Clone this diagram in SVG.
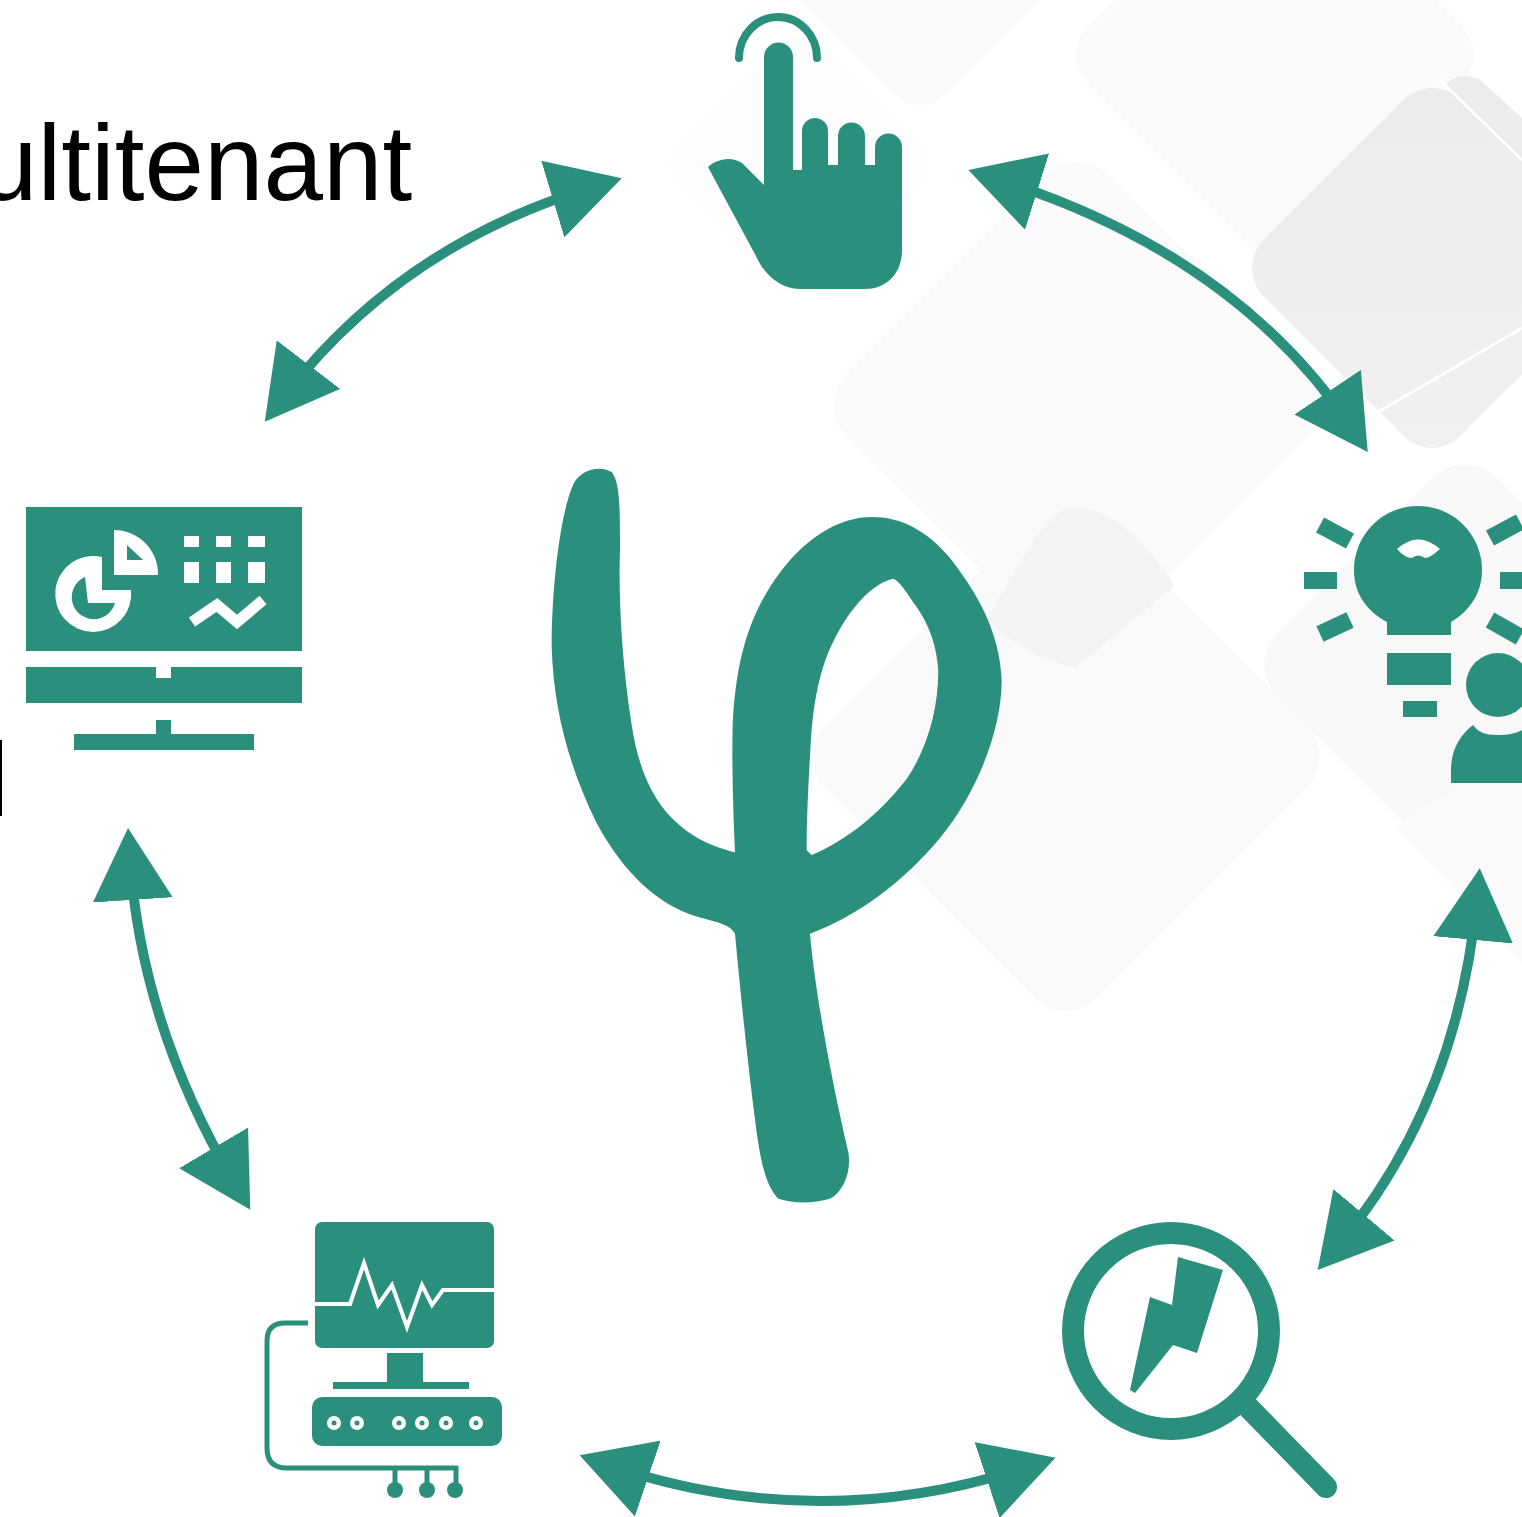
<svg xmlns="http://www.w3.org/2000/svg" width="1522" height="1517" viewBox="0 0 1522 1517">
<style>
.t{fill:#2b8f7d}
.w{fill:#fff}
.ws{fill:none;stroke:#fff}
.ts{fill:none;stroke:#2b8f7d}
.c{fill:none;stroke:#2b8f7d;stroke-width:10;marker-start:url(#h);marker-end:url(#h)}
.title{font-family:"Liberation Sans",Arial,sans-serif;font-size:107px;fill:#000}
</style>
<defs>
<marker id="h" viewBox="0 0 72 80" refX="42" refY="40" markerWidth="72" markerHeight="80" markerUnits="userSpaceOnUse" orient="auto-start-reverse">
<path d="M0,0 L72,40 L0,80 Z" fill="#2b8f7d"/>
</marker>
<linearGradient id="g" x1="0" y1="0" x2="1" y2="1"><stop offset="0" stop-color="#ebebeb"/><stop offset="1" stop-color="#f1f1f1"/></linearGradient>
</defs>
<rect width="1522" height="1517" fill="#fff"/>
<g id="background">
<rect x="800" y="-170" width="240" height="240" rx="35" transform="rotate(45 920 -50)" fill="#fafafa"/>
<rect x="700" y="65" width="200" height="200" rx="30" transform="rotate(45 800 165)" fill="#fdfdfd"/>
<rect x="1122.500" y="-97.500" width="305" height="305" rx="40" transform="rotate(45 1275 55)" fill="#fafafa"/>
<path d="M1445,85 Q1460,70 1480,80 L1522,118 V170 Z" fill="#ececec"/>
<rect x="1293" y="129" width="278" height="278" rx="40" transform="rotate(45 1432 268)" fill="url(#g)"/>
<path d="M1378,412 L1522,328 M1440,80 L1522,160" fill="none" stroke="#fff" stroke-width="3"/>
<rect x="892" y="220" width="370" height="370" rx="45" transform="rotate(45 1077 405)" fill="#fafafa"/>
<rect x="873.500" y="564.500" width="385" height="385" rx="45" transform="rotate(45 1066 757)" fill="#f9f9f9"/>
<path d="M1072,507 C1110,507 1140,535 1175,585 L1075,668 C1040,660 1005,640 988,618 C1015,570 1045,512 1072,507 Z" fill="#f3f3f3"/>
<rect x="1310" y="510" width="310" height="310" rx="45" transform="rotate(45 1465 665)" fill="#f8f8f8"/>
<path d="M1395,826 L1522,748 V962 Z" fill="#fafafa"/>
</g>
<g id="title"><text class="title" x="-22" y="200">ultitenant</text></g>
<rect id="edge-mark" x="0" y="740" width="2" height="76" fill="#000"/>
<g id="connectors">
<path class="c" d="M283,398 Q400,245 593,187"/>
<path class="c" d="M997,179 Q1235,254 1351,427"/>
<path class="c" d="M1477,898 Q1458,1103 1337,1247"/>
<path class="c" d="M130,858 Q141,1025 235,1184"/>
<path class="c" d="M608,1465 Q817,1536 1027,1467"/>
</g>
<g id="node-phi">
<path class="t" fill-rule="evenodd" transform="translate(540 450) scale(.33333 .491)" d="M100,70 C120,40 180,30 215,45 C240,65 240,120 240,200 C235,300 245,430 275,560 C295,650 340,720 420,765 C470,795 530,810 585,820 C580,740 575,650 578,560 C585,460 610,370 680,290 C750,210 850,150 960,138 C1060,130 1150,155 1230,220 C1310,290 1380,370 1385,470 C1385,570 1310,700 1200,790 C1090,880 950,950 810,985 C825,1100 870,1270 925,1430 C935,1470 910,1510 870,1525 C820,1535 760,1535 715,1525 C680,1500 665,1460 650,1390 C625,1260 605,1130 585,985 C570,965 520,960 470,950 C350,925 250,860 170,760 C90,650 40,530 35,400 C35,280 60,130 100,70 Z M1060,262 C1000,270 930,320 880,390 C840,445 820,510 812,600 C805,680 800,750 800,815 L815,825 C920,795 1020,740 1100,670 C1160,610 1195,530 1195,450 C1190,400 1170,360 1130,320 C1100,290 1080,268 1060,262 Z"/>
</g>
<g id="node-hand">
<path class="ts" stroke-width="8" stroke-linecap="round" d="M739,58 A39,41 0 0 1 817,58"/>
<path class="t" d="M708,167 C715,160 730,155 742,163 L764,185 L764,57 A14.500,14.500 0 0 1 793,57 L793,170 L802,170 L802,131 A13,13 0 0 1 828,131 L828,165 L838,165 L838,136 A13.500,13.500 0 0 1 865,136 L865,165 L875,165 L875,147 A13.500,13.500 0 0 1 902,147 L902,250 C902,275 885,289 865,289 L800,289 C780,289 765,275 757,258 Z"/>
</g>
<g id="node-dashboard">
<rect class="t" x="26" y="507" width="276" height="144"/>
<path class="t" d="M26,667 H156 V678 H171 V667 H302 V703 H26 Z"/>
<path class="t" d="M74,734 H156 V720 H171 V734 H254 V750 H74 Z"/>
<path class="w" d="M102,557 A38,38 0 1 0 131,590 L102,590 Z"/>
<path class="t" d="M85,577 A22,22 0 1 0 115,603 L88,603 Z"/>
<path class="w" d="M114,530 A44,44 0 0 1 158,575 L114,575 Z"/>
<path class="t" d="M127,545 L143,560 L127,560 Z"/>
<path class="w" d="M184,536h15v11h-15z M216,536h15v11h-15z M248,536h17v11h-17z M184,562h15v21h-15z M216,562h15v21h-15z M248,562h17v21h-17z"/>
<path class="ws" stroke-width="11" d="M192,622 L217,605 L237,622 L263,600"/>
</g>
<g id="node-bulb">
<path class="t" d="M1387,635 V622 C1365,610 1354,592 1354,570 A64,64 0 0 1 1482,570 C1482,592 1471,610 1451,622 V635 Z"/>
<path class="w" d="M1397,549 Q1418,530 1440,549 Q1430,558 1425,558 Q1418,553 1412,558 Q1405,558 1397,549 Z"/>
<path class="t" d="M1387,653 H1451 V685 H1387 Z M1403,701 H1437 V717 H1403 Z M1304,572 H1337 V589 H1304 Z M1500,572 H1530 V589 H1500 Z"/>
<path class="ts" stroke-width="17" d="M1320,525 L1350,541 M1320,634 L1350,620 M1490,538 L1520,522 M1490,620 L1520,637"/>
<circle class="t" cx="1498" cy="685" r="32"/>
<path class="t" d="M1451,783 V770 C1451,750 1460,735 1473,725 C1480,735 1490,735 1500,735 C1510,735 1520,733 1530,725 V783 Z"/>
</g>
<g id="node-monitor">
<rect class="t" x="315" y="1222" width="179" height="126" rx="7"/>
<path class="ws" stroke-width="4" d="M313,1304 L350,1304 L364,1263 L378,1305 L392,1285 L407,1327 L422,1285 L432,1305 L443,1290 L494,1290"/>
<path class="t" d="M387,1353 H423 V1382 H469 V1389 H333 V1382 H387 Z"/>
<rect class="t" x="312" y="1397" width="190" height="49" rx="10"/>
<g class="w"><circle cx="334" cy="1423" r="7"/><circle cx="357" cy="1423" r="7"/><circle cx="399" cy="1423" r="7"/><circle cx="422" cy="1423" r="7"/><circle cx="446" cy="1423" r="7"/><circle cx="476" cy="1423" r="7"/></g>
<g class="t"><circle cx="334" cy="1423" r="2.500"/><circle cx="357" cy="1423" r="2.500"/><circle cx="399" cy="1423" r="2.500"/><circle cx="422" cy="1423" r="2.500"/><circle cx="446" cy="1423" r="2.500"/><circle cx="476" cy="1423" r="2.500"/></g>
<path class="ts" stroke-width="5" d="M308,1323 H285 Q267,1323 267,1341 V1448 Q267,1468 287,1468 H458 M395,1468 V1490 M427,1468 V1490 M456,1466 V1490"/>
<circle class="t" cx="395" cy="1490" r="8"/><circle class="t" cx="427" cy="1490" r="8"/><circle class="t" cx="455" cy="1490" r="8"/>
</g>
<g id="node-magnifier">
<circle class="ts" cx="1171" cy="1331" r="98" stroke-width="22"/>
<path class="ts" stroke-width="22" stroke-linecap="round" d="M1249,1408 L1326,1487"/>
<path class="t" d="M1178,1257 L1223,1270 L1197,1353 L1173,1345 L1135,1393 L1130,1390 L1150,1297 L1172,1305 Z"/>
</g>
</svg>
